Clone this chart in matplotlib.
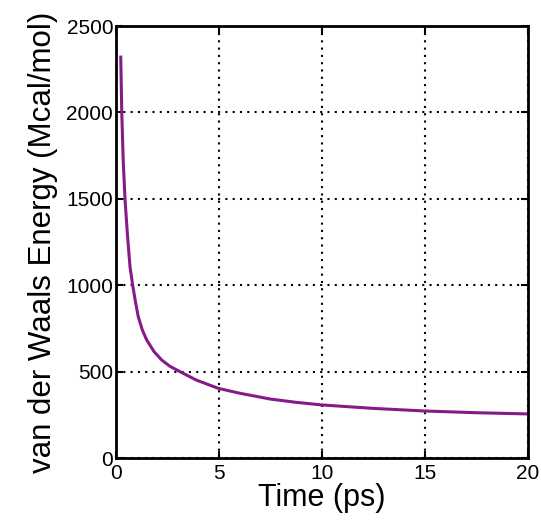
import matplotlib
matplotlib.use('Agg')
import matplotlib.pyplot as plt

# values
time_ps = [0.23, 0.28, 0.35, 0.44, 0.55, 0.68, 0.81, 0.95, 1.08, 1.28, 1.49,
           1.85, 2.22, 2.6, 3.1, 3.9, 4.97, 6.0, 7.5, 8.75, 10.0, 12.5, 15.0,
           17.5, 20.0]
vdw_energy = [2320, 2000, 1720, 1493, 1300, 1107, 1000, 900, 818, 740, 683,
              615, 567, 532, 500, 451, 403, 375, 341, 322, 307, 287, 272,
              262, 255]
xticks = [0, 5, 10, 15, 20]
yticks = [0, 500, 1000, 1500, 2000, 2500]

plt.rcParams['font.family'] = ['Liberation Sans', 'DejaVu Sans']

fig = plt.figure(figsize=(5.41, 5.24), dpi=100)
ax = fig.add_axes([116/541, 1 - 458/524, 412/541, 432/524])

ax.plot(time_ps, vdw_energy, color='#861a8a', lw=2.2, solid_joinstyle='round')

ax.set_xlim(0, 20)
ax.set_ylim(0, 2500)
ax.set_xticks(xticks)
ax.set_yticks(yticks)
ax.grid(True, color='black', linestyle=(0, (1, 2.5)), linewidth=1.5)
ax.tick_params(direction='in', top=True, right=True, length=5, width=1.5,
               labelsize=15, pad=2)
ax.tick_params(axis='x', pad=4)
for s in ax.spines.values():
    s.set_linewidth(2)

ax.set_xlabel('Time (ps)', fontsize=22, labelpad=0)
ax.set_ylabel('van der Waals Energy (Mcal/mol)', fontsize=22.5, labelpad=6)

fig.savefig('out.png', dpi=100)
